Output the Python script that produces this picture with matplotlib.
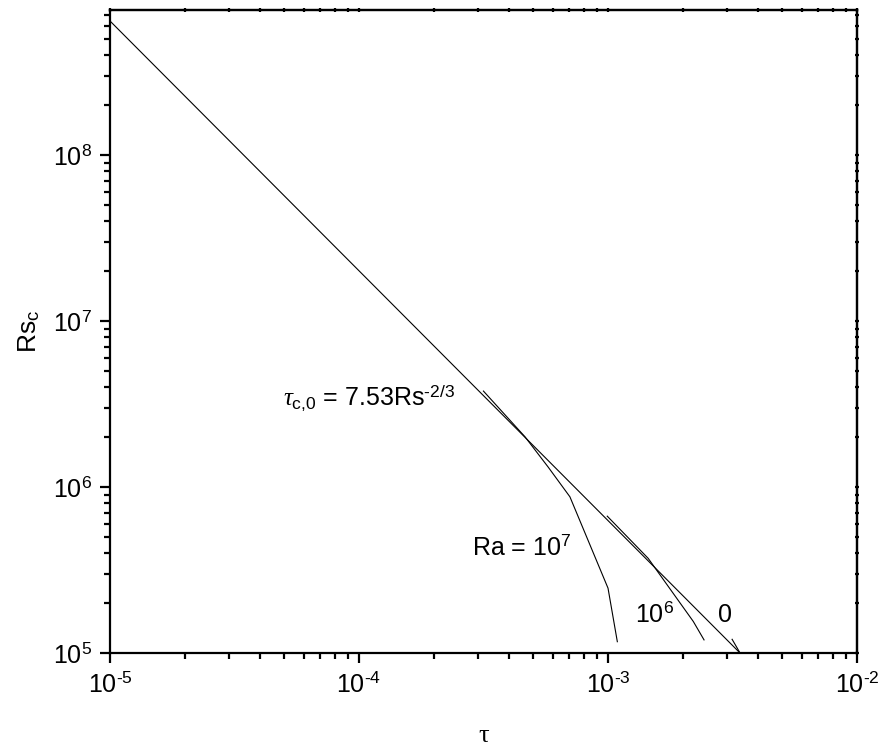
import numpy as np
import matplotlib
matplotlib.use('Agg')
import matplotlib.pyplot as plt
from matplotlib.ticker import LogLocator, NullFormatter, FuncFormatter

# fonts: Arial-like text, serif tau
plt.rcParams['font.family'] = 'Liberation Sans'
plt.rcParams['mathtext.fontset'] = 'custom'
plt.rcParams['mathtext.rm'] = 'Liberation Sans'
plt.rcParams['mathtext.it'] = 'Liberation Serif:italic'
plt.rcParams['mathtext.bf'] = 'Liberation Sans:bold'
plt.rcParams['axes.unicode_minus'] = False

# data
# critical line tau_c,0 = 7.53 Rs^(-2/3)  (Ra = 0 limit)
tau_main = [1.0e-5, 3.39e-3]
rs_main = [6.44e8, 1.0e5]

# Ra = 1e7
tau_ra7 = [3.16e-4, 4.64e-4, 5.75e-4, 7.03e-4, 1.0e-3, 1.09e-3]
rs_ra7 = [3.79e6, 2.01e6, 1.32e6, 8.74e5, 2.46e5, 1.17e5]

# Ra = 1e6
tau_ra6 = [9.93e-4, 1.45e-3, 2.2e-3, 2.43e-3]
rs_ra6 = [6.68e5, 3.72e5, 1.55e5, 1.2e5]

# Ra = 0
tau_ra0 = [3.15e-3, 3.28e-3, 3.39e-3]
rs_ra0 = [1.21e5, 1.09e5, 1.0e5]


def pow10(v, pos):
    # hyphen minus like the original, not the unicode minus
    return r'10$^{\text{%d}}$' % int(round(np.log10(v)))


fig = plt.figure(figsize=(8.84, 7.56), dpi=100)
ax = fig.add_axes([0.1244, 0.1362, 0.9695 - 0.1244, 0.9868 - 0.1362])

lw = 0.8
ax.plot(tau_main, rs_main, color='black', lw=lw)
ax.plot(tau_ra7, rs_ra7, color='black', lw=lw)
ax.plot(tau_ra6, rs_ra6, color='black', lw=lw)
ax.plot(tau_ra0, rs_ra0, color='black', lw=lw)

ax.set_xscale('log')
ax.set_yscale('log')
ax.set_xlim(1e-5, 1e-2)
ax.set_ylim(1e5, 7.5e8)

ax.xaxis.set_major_locator(LogLocator(base=10, numticks=10))
ax.xaxis.set_minor_locator(LogLocator(base=10, subs=np.arange(2, 10), numticks=20))
ax.yaxis.set_major_locator(LogLocator(base=10, numticks=10))
ax.yaxis.set_minor_locator(LogLocator(base=10, subs=np.arange(2, 10), numticks=20))
ax.xaxis.set_major_formatter(FuncFormatter(pow10))
ax.yaxis.set_major_formatter(FuncFormatter(pow10))
ax.xaxis.set_minor_formatter(NullFormatter())
ax.yaxis.set_minor_formatter(NullFormatter())

for s in ax.spines.values():
    s.set_linewidth(1.6)

ax.tick_params(which='major', direction='out', length=7, width=1.6, labelsize=18,
               top=False, right=False)
ax.tick_params(which='minor', direction='out', length=4.5, width=1.6,
               top=False, right=False)
ax.tick_params(axis='x', which='major', pad=7)
ax.tick_params(axis='y', which='major', pad=6)

# small ticks on top/right spines
axt = ax.secondary_xaxis('top')
axt.tick_params(which='both', direction='inout', length=2.5, width=1.6, labeltop=False)
axt.xaxis.set_major_locator(LogLocator(base=10, numticks=10))
axt.xaxis.set_minor_locator(LogLocator(base=10, subs=np.arange(2, 10), numticks=20))
axt.xaxis.set_major_formatter(NullFormatter())
axt.xaxis.set_minor_formatter(NullFormatter())
axt.spines['top'].set_linewidth(1.6)
axr = ax.secondary_yaxis('right')
axr.tick_params(which='both', direction='inout', length=2.5, width=1.6, labelright=False)
axr.yaxis.set_major_locator(LogLocator(base=10, numticks=10))
axr.yaxis.set_minor_locator(LogLocator(base=10, subs=np.arange(2, 10), numticks=20))
axr.yaxis.set_major_formatter(NullFormatter())
axr.yaxis.set_minor_formatter(NullFormatter())
axr.spines['right'].set_linewidth(1.6)

ax.set_xlabel('τ', family='Liberation Serif', fontsize=19, labelpad=20)
ax.set_ylabel(r'Rs$_{\mathrm{c}}$', fontsize=19, labelpad=8)

ax.text(4.95e-5, 3.12e6, r'$\tau_{\text{c,0}}$ = 7.53Rs$^{\text{-2/3}}$', fontsize=18,
        ha='left', va='baseline')
ax.text(2.84e-4, 3.89e5, r'Ra = 10$^{\mathrm{7}}$', fontsize=18, ha='left', va='baseline')
ax.text(1.28e-3, 1.54e5, r'10$^{\mathrm{6}}$', fontsize=18, ha='left', va='baseline')
ax.text(2.77e-3, 1.54e5, '0', fontsize=18, ha='left', va='baseline')

fig.savefig('out.png', dpi=100)
